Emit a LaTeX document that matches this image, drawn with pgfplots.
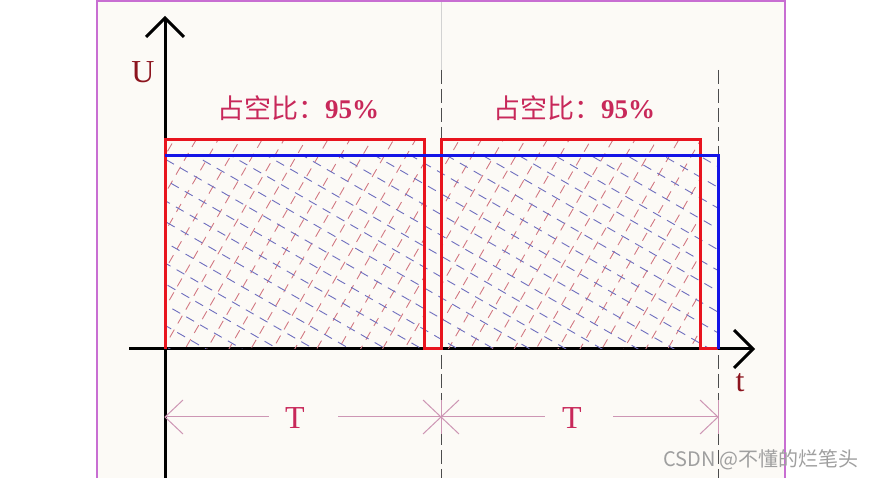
\documentclass[border=0pt]{standalone}
\usepackage{pgfplots}
\pgfplotsset{compat=1.18}
\usepackage{fontspec}
\setmainfont{Liberation Serif}
\newfontfamily\cjk{Noto Sans CJK SC}
\usetikzlibrary{patterns.meta}
\definecolor{cream}{RGB}{252,250,246}
\definecolor{frame}{RGB}{200,110,210}
\definecolor{crim}{RGB}{200,40,90}
\definecolor{dred}{RGB}{140,20,30}
\definecolor{dimc}{RGB}{205,150,180}
\definecolor{wred}{RGB}{232,20,30}
\definecolor{wblue}{RGB}{20,20,230}
\definecolor{hred}{RGB}{210,120,130}
\definecolor{hblue}{RGB}{110,110,190}
\pgfdeclarepattern{
  name=dashhatch,
  type=uncolored,
  parameters={\hatchangle,\hatchsep,\hatchdash,\hatchgap},
  bottom left={\pgfpoint{-0.1pt}{-0.5pt}},
  top right={\pgfpoint{\hatchdash+\hatchgap+0.1pt}{0.5pt}},
  tile size={\pgfpoint{\hatchdash+\hatchgap}{\hatchsep}},
  tile transformation={\pgftransformrotate{\hatchangle}},
  defaults={
    hangle/.store in=\hatchangle, hangle=60,
    hsep/.store in=\hatchsep, hsep=9.5pt,
    hdash/.store in=\hatchdash, hdash=4.5pt,
    hgap/.store in=\hatchgap, hgap=3.5pt,
  },
  code={
    \pgfsetlinewidth{0.45pt}
    \pgfpathmoveto{\pgfpoint{0pt}{0pt}}
    \pgfpathlineto{\pgfpoint{\hatchdash}{0pt}}
    \pgfusepath{stroke}
  },
}
\begin{document}
\begin{tikzpicture}
% background / decorations axis in image pixel units
\begin{axis}[
  scale only axis, width=436pt, height=239pt,
  xmin=0, xmax=872, ymin=0, ymax=478, y dir=reverse,
  hide axis, clip=false]
  \fill[white] (axis cs:0,0) rectangle (axis cs:872,478);
  \fill[cream] (axis cs:97,1) rectangle (axis cs:785,478);
  \draw[frame, line width=0.8pt] (axis cs:97,478) -- (axis cs:97,1) -- (axis cs:785,1) -- (axis cs:785,478);
  % dashed period lines
  \draw[gray!35, line width=0.4pt] (axis cs:441,2) -- (axis cs:441,70);
  \draw[black!70, line width=0.5pt, dash pattern=on 7pt off 2.5pt] (axis cs:441,70) -- (axis cs:441,478);
  \draw[black!70, line width=0.5pt, dash pattern=on 7pt off 2.5pt] (axis cs:718,70) -- (axis cs:718,478);
  % coordinate axes
  \draw[line width=1.5pt] (axis cs:165,478) -- (axis cs:165,18);
  \draw[line width=1.5pt] (axis cs:146,37) -- (axis cs:165,18) -- (axis cs:184,37);
  \draw[line width=1.5pt] (axis cs:129,349) -- (axis cs:753,349);
  \draw[line width=1.5pt] (axis cs:734,330) -- (axis cs:753,349) -- (axis cs:734,368);
  % dimension lines
  \begin{scope}[dimc, line width=0.5pt]
    \draw (axis cs:165,417) -- (axis cs:269,417);
    \draw (axis cs:338,417) -- (axis cs:441,417);
    \draw (axis cs:441,417) -- (axis cs:545,417);
    \draw (axis cs:613,417) -- (axis cs:718,417);
    \draw (axis cs:183,400) -- (axis cs:165,417) -- (axis cs:183,434);
    \draw (axis cs:423,400) -- (axis cs:441,417) -- (axis cs:423,434);
    \draw (axis cs:459,400) -- (axis cs:441,417) -- (axis cs:459,434);
    \draw (axis cs:700,400) -- (axis cs:718,417) -- (axis cs:700,434);
    \draw (axis cs:441,400) -- (axis cs:441,434);
    \draw (axis cs:718,400) -- (axis cs:718,434);
  \end{scope}
  % labels
  \node[dred, font=\fontsize{16}{18}\selectfont] at (axis cs:143,72) {U};
  \node[dred, font=\fontsize{16}{18}\selectfont] at (axis cs:740,383) {t};
  \node[crim, font=\fontsize{16}{18}\selectfont] at (axis cs:295,418) {T};
  \node[crim, font=\fontsize{16}{18}\selectfont] at (axis cs:572,418) {T};
  \node[crim, font=\fontsize{13.5}{16}\selectfont] at (axis cs:298,108) {{\cjk 占空比：}\textbf{95\%}};
  \node[crim, font=\fontsize{13.5}{16}\selectfont] at (axis cs:574,108) {{\cjk 占空比：}\textbf{95\%}};
  \node[gray!75, font=\fontsize{10}{12}\selectfont\cjk] at (axis cs:761,460) {CSDN @不懂的烂笔头};
\end{axis}
% waveform axis: t in units of T, U relative to the red amplitude
\begin{axis}[
  scale only axis, width=436pt, height=239pt,
  xmin=-0.59675, xmax=2.55696, ymin=-0.61722, ymax=1.66986,
  hide axis, clip=false]
  \addplot[draw=none, pattern={dashhatch[hangle=60, hsep=9.5pt]}, pattern color=hred]
    coordinates {(0,0) (0,1) (0.94,1) (0.94,0)} \closedcycle;
  \addplot[draw=none, pattern={dashhatch[hangle=60, hsep=9.5pt]}, pattern color=hred]
    coordinates {(1,0) (1,1) (1.935,1) (1.935,0)} \closedcycle;
  \addplot[draw=none, pattern={dashhatch[hangle=-30, hsep=9pt]}, pattern color=hblue]
    coordinates {(0,0) (0,0.928) (2,0.928) (2,0)} \closedcycle;
  \addplot[wred, line width=1.5pt, mark=none]
    coordinates {(0,0) (0,1) (0.94,1) (0.94,0) (1,0) (1,1) (1.935,1) (1.935,0) (2,0)};
  \addplot[wblue, line width=1.5pt, mark=none]
    coordinates {(0,0.928) (2,0.928) (2,0)};
\end{axis}
\end{tikzpicture}
\end{document}
